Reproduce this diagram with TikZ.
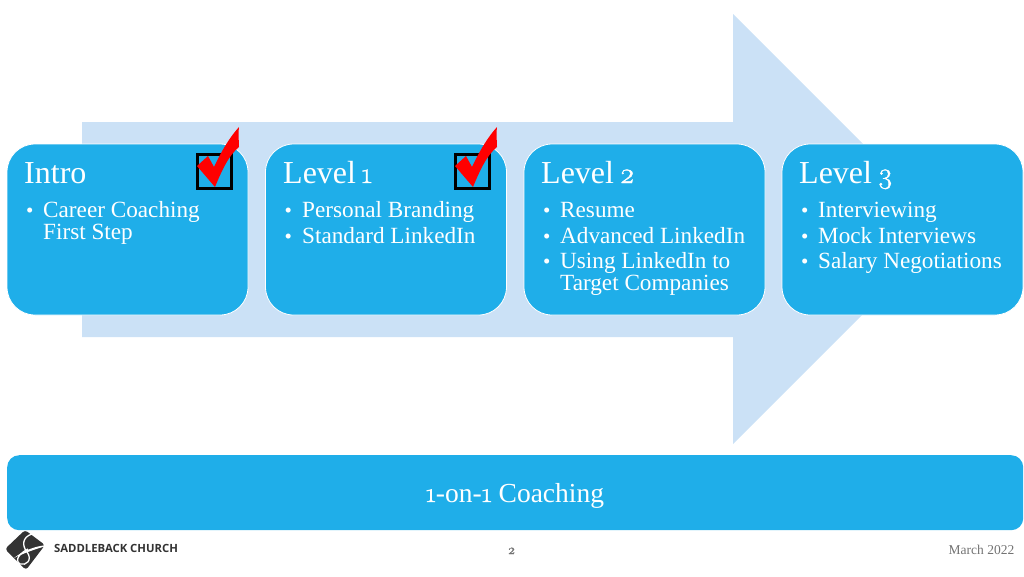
\documentclass[tikz,border=0pt]{standalone}
\usepackage{fontspec}
\setmainfont{Liberation Serif}
\newfontfamily\digitfont[Numbers=OldStyle,FakeBold=1.2]{Latin Modern Roman}
\newfontfamily\logofont{Open Sans}
\newcommand{\dg}[1]{{\digitfont #1}}
\newcommand{\lvl}[1]{Level\hspace{5.5pt}{\digitfont\fontsize{29}{29}\selectfont #1}}
\definecolor{boxblue}{HTML}{1FAEE9}
\definecolor{arrowblue}{HTML}{CBE1F6}
\definecolor{logodark}{HTML}{333333}
\tikzset{
  card/.style={draw=white,line width=0.8pt,fill=boxblue,rounded corners=28pt,minimum width=241pt,minimum height=171pt,anchor=north west,inner sep=0pt,outer sep=0pt},
  bar/.style={fill=boxblue,rounded corners=12pt,minimum width=1016pt,minimum height=75pt,anchor=north west,inner sep=0pt},
  title/.style={anchor=base west,inner sep=0pt,text=white,font=\fontsize{32}{32}\selectfont},
  item/.style={anchor=base west,inner sep=0pt,text=white,font=\fontsize{23.2}{23.2}\selectfont},
  bul/.style={anchor=base west,inner sep=0pt,text=white,font=\fontsize{21}{21}\selectfont},
  bartext/.style={anchor=base,inner sep=0pt,text=white,font=\fontsize{27.5}{27.5}\selectfont},
  foot/.style={anchor=base,inner sep=0pt,text=black!55,font=\fontsize{13.5}{13.5}\selectfont},
  tick/.style={fill=red,draw=none},
  tickbox/.style={draw=black,line width=3pt,minimum size=34pt,inner sep=0pt,outer sep=0pt,anchor=north west},
}
\begin{document}
\begin{tikzpicture}[x=1pt,y=-1pt]
\useasboundingbox (0,0) rectangle (1024,576);
\fill[arrowblue] (82,122) -- (733,122) -- (733,14) -- (948,229) -- (733,444) -- (733,337) -- (82,337) -- cycle;
\node[card] (intro) at (7,144) {};
\node[card] (one) at (265.5,144) {};
\node[card] (two) at (524,144) {};
\node[card] (three) at (782,144) {};
\node[bar] (coach) at (7,455) {};
% Intro
\node[title] (t0) at (24,183) {Intro};
\node[bul] (a0) at (26,217) {•};
\node[item] (a1) at (43,217) {Career Coaching};
\node[item] (a2) at (43,239) {First Step};
% Level 1
\node[title] (t1) at (283,183) {\lvl{1}};
\node[bul] (b0) at (284.5,217) {•};
\node[item] (b1) at (302,217) {Personal Branding};
\node[bul] (b2) at (284.5,243) {•};
\node[item] (b3) at (302,243) {Standard LinkedIn};
% Level 2
\node[title] (t2) at (541,183) {\lvl{2}};
\node[bul] (c0) at (543,217) {•};
\node[item] (c1) at (560,217) {Resume};
\node[bul] (c2) at (543,243) {•};
\node[item] (c3) at (560,243) {Advanced LinkedIn};
\node[bul] (c4) at (543,268) {•};
\node[item] (c5) at (560,268) {Using LinkedIn to};
\node[item] (c6) at (560,290) {Target Companies};
% Level 3
\node[title] (t3) at (799,183) {\lvl{3}};
\node[bul] (d0) at (801,217) {•};
\node[item] (d1) at (818,217) {Interviewing};
\node[bul] (d2) at (801,243) {•};
\node[item] (d3) at (818,243) {Mock Interviews};
\node[bul] (d4) at (801,268) {•};
\node[item] (d5) at (818,268) {Salary Negotiations};
% Bar
\node[bartext] (ct) at (515,502) {\dg{1}-on-\dg{1} Coaching};
% Checks
\foreach \dx/\nm in {0/p,258/q}{
  \begin{scope}[xshift=\dx pt]
    \node[tickbox] (box\nm) at (197.5,154.5) {};
    \fill[tick] (197,166) -- (208,156) -- (214,167) .. controls (222,150) and (230,137) .. (239,127) .. controls (238,135) and (239,141) .. (239,147) .. controls (229,155) and (222,170) .. (215,187) -- cycle;
  \end{scope}
}
% Logo
\fill[logodark,rounded corners=3pt] (5,549) -- (25,530) -- (45,545) -- (26,570) -- cycle;
\fill[white] (50,545) .. controls (38,545) and (24,550) .. (14,558) .. controls (24,553) and (38,548) .. cycle;
\draw[white,line width=1.3pt] (32,534) .. controls (22,537) and (22,546) .. (27,552) .. controls (33,560) and (26,566) .. (20,564) .. controls (14,560) and (20,553) .. (28,549);
\node[anchor=base west,inner sep=0pt,text=logodark,font=\logofont\bfseries\fontsize{11.3}{11.3}\selectfont] (logo) at (54,552) {SADDLEBACK CHURCH};
% Footer
\node[foot] (pg) at (511.5,554) {\dg{2}};
\node[foot] (dt) at (981.5,554) {March 2022};
\end{tikzpicture}
\end{document}
